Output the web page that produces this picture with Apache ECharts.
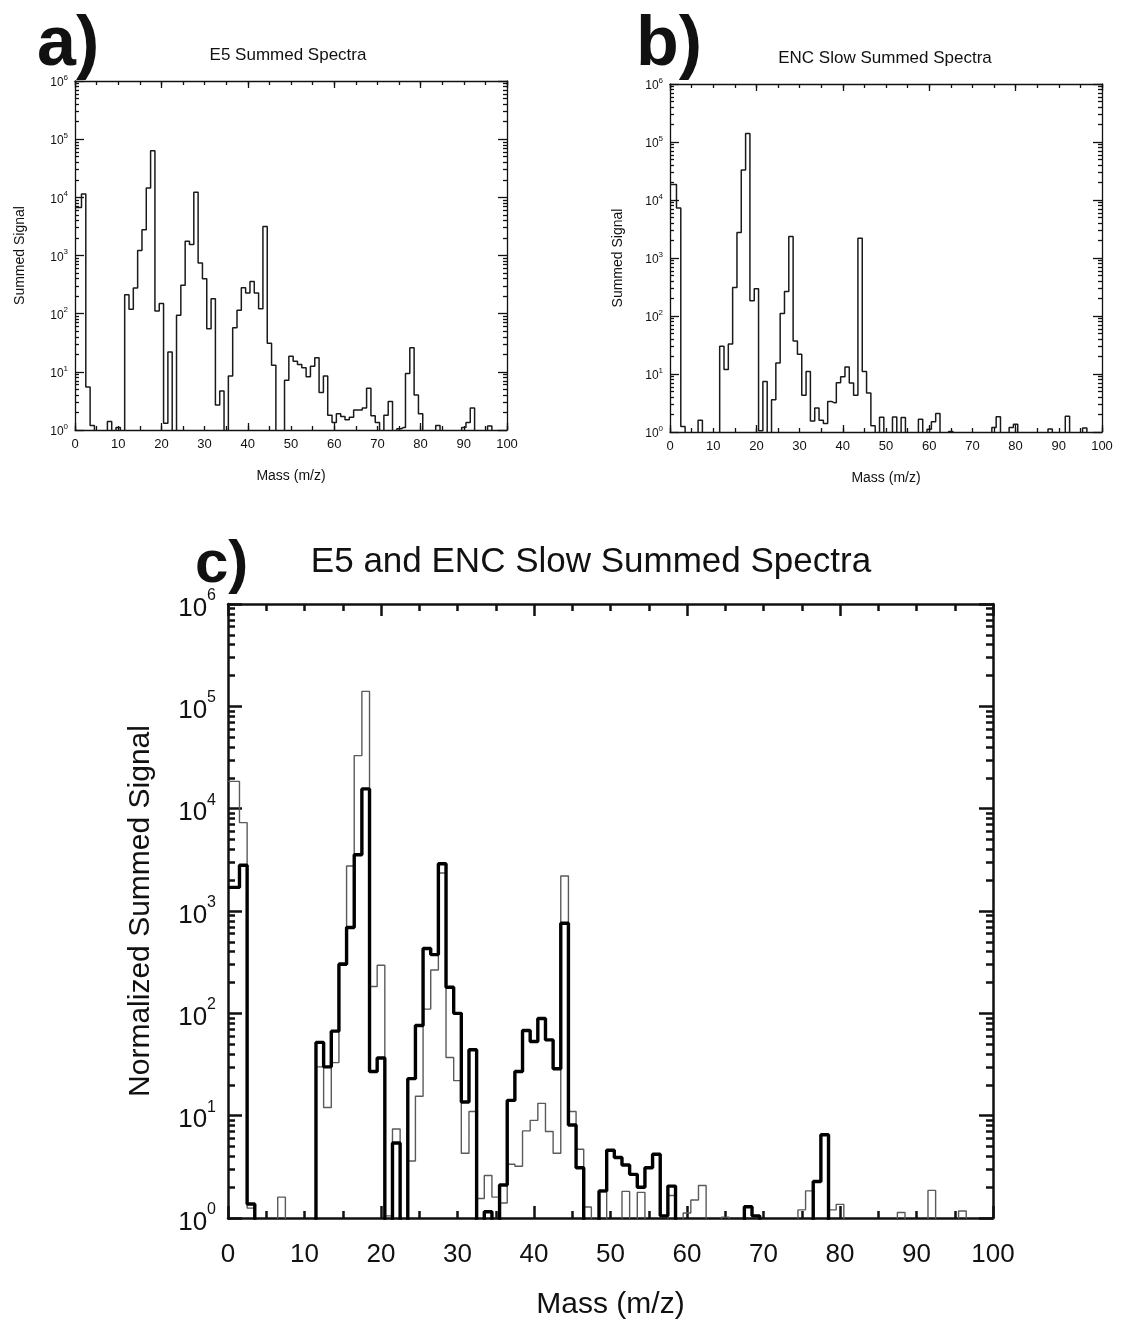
<!DOCTYPE html>
<html>
<head>
<meta charset="utf-8">
<script src="https://cdn.jsdelivr.net/npm/echarts@6/dist/echarts.min.js"></script>
<style>
  html, body { margin: 0; padding: 0; background: #fff; }
  #main { width: 1123px; height: 1321px; }
</style>
</head>
<body>
<div id="main"></div>
<script>
// mass bins, 1 amu wide, centred on integers 0..100
const masses = Array.from({ length: 101 }, (_, i) => i);

// a) E5 summed spectra (counts per mass bin, 0 = empty bin)
const e5 = [
  6700, 6700, 11400, 5.5, 1.2, 0, 0, 0, 1.4, 0,
  1.1, 0, 212, 119, 275, 1220, 2760, 14400, 63000, 111,
  150, 1.3, 22, 0, 94, 307, 1760, 1540, 12200, 740,
  400, 55, 180, 2.7, 4.7, 0, 8.5, 57, 115, 279,
  226, 358, 226, 122, 3150, 31, 13, 0, 0, 7.2,
  18.5, 15.2, 13.4, 11.7, 8.2, 12.5, 17.4, 4.4, 8.5, 1.8,
  1.35, 1.9, 1.7, 1.5, 1.65, 2.2, 2.2, 2.4, 5.2, 1.75,
  1.35, 0, 1.8, 3.1, 0, 1.05, 1.1, 9.4, 26, 4.0,
  1.9, 0, 0, 0, 1.2, 0, 0, 0, 0, 0,
  1.1, 1.35, 2.4, 0, 0, 0, 1.17, 0, 0, 0,
  0
];

// b) ENC slow summed spectra (also the thin grey trace in c)
const encSlow = [
  18500, 18500, 7300, 1.25, 0, 0, 0, 1.6, 0, 0,
  0, 0, 30, 12, 33, 310, 2750, 33000, 140000, 183,
  295, 1.05, 7.4, 0, 3.6, 15.5, 110, 265, 2350, 37,
  22, 4.3, 11, 1.55, 2.6, 1.6, 1.4, 3.35, 3.2, 7.1,
  9.0, 13.2, 7.0, 4.3, 2200, 11, 4.7, 1.28, 0, 1.8,
  0, 0, 1.82, 0, 1.78, 0, 0, 0, 1.66, 0,
  1.12, 1.5, 2.08, 0, 0, 1.02, 0, 0, 0, 0,
  0, 0, 0, 0, 0, 1.2, 1.84, 0, 0, 1.2,
  1.36, 0, 0, 0, 0, 0, 0, 0, 1.13, 0,
  0, 0, 1.86, 0, 0, 0, 1.17, 0, 0, 0,
  0
];

// c) normalized E5 spectrum (thick black trace)
const e5Normalized = [
  1700, 1700, 2800, 1.37, 0, 0, 0, 0, 0, 0,
  0, 0, 52, 30, 67, 302, 690, 3540, 15600, 27,
  36.6, 0, 5.4, 0, 23, 76, 430, 375, 2900, 180,
  100, 13.6, 44, 0, 1.15, 0, 2.1, 14.1, 27, 68,
  53, 89, 55, 28.7, 760, 8.1, 3.1, 0, 0, 1.84,
  4.6, 3.9, 3.3, 2.67, 2.0, 3.1, 4.2, 1.05, 2.05, 0,
  0, 0, 0, 0, 0, 0, 0, 0, 1.29, 1.05,
  0, 0, 0, 0, 0, 0, 0, 2.27, 6.5, 0,
  0, 0, 0, 0, 0, 0, 0, 0, 0, 0,
  0, 0, 0, 0, 0, 0, 0, 0, 0, 0,
  0
];

const yMajorTicks = [1, 10, 100, 1000, 10000, 100000, 1000000];
const yMinorTicks = [2, 3, 4, 5, 6, 7, 8, 9, 20, 30, 40, 50, 60, 70, 80, 90,
  200, 300, 400, 500, 600, 700, 800, 900, 2000, 3000, 4000, 5000, 6000, 7000, 8000, 9000,
  20000, 30000, 40000, 50000, 60000, 70000, 80000, 90000,
  200000, 300000, 400000, 500000, 600000, 700000, 800000, 900000];

const FONT = '"Liberation Sans", Arial, Helvetica, sans-serif';
const FLOOR = 0.01; // empty bins drop below the axis and get clipped

const panels = [
  { grid: { left: 75, top: 81, width: 432, height: 349 },
    axisW: 1.3, tMajX: 7, tMinX: 4, tMajY: 9, tMinY: 4,
    lab: 13, base: 12, sup: 8, xMargin: 8, yMargin: 7,
    name: 14, xGap: 39, yGap: 48, yName: 'Summed Signal' },
  { grid: { left: 670, top: 84, width: 432, height: 348 },
    axisW: 1.3, tMajX: 7, tMinX: 4, tMajY: 9, tMinY: 4,
    lab: 13, base: 12, sup: 8, xMargin: 8, yMargin: 7,
    name: 14, xGap: 39, yGap: 45, yName: 'Summed Signal' },
  { grid: { left: 228, top: 604, width: 765, height: 620 },
    axisW: 2.5, tMajX: 12, tMinX: 7, tMajY: 14, tMinY: 7,
    lab: 26, base: 26, sup: 16, xMargin: 24, yMargin: 12,
    name: 30, xGap: 72, yGap: 72, yName: 'Normalized Summed Signal' }
];

const xAxes = [], yAxes = [];
panels.forEach((p, g) => {
  const line = { show: true, onZero: false, lineStyle: { color: '#111', width: p.axisW } };
  const noLine = { show: false, onZero: false };
  const tickStyle = { color: '#111', width: p.axisW };
  ['bottom', 'top'].forEach(side => {
    // labels every 10, short ticks every 5
    xAxes.push({
      gridIndex: g, type: 'value', position: side, min: 0, max: 100, interval: 10,
      axisLine: line,
      axisTick: { show: true, inside: true, length: p.tMinX, lineStyle: tickStyle },
      minorTick: { show: true, splitNumber: 2, length: p.tMinX, lineStyle: tickStyle },
      splitLine: { show: false }, minorSplitLine: { show: false },
      axisLabel: side === 'bottom'
        ? { show: true, fontSize: p.lab, color: '#111', fontFamily: FONT, margin: p.xMargin }
        : { show: false },
      name: side === 'bottom' ? 'Mass (m/z)' : '', nameLocation: 'middle', nameGap: p.xGap,
      nameTextStyle: { fontSize: p.name, color: '#111', fontFamily: FONT }
    });
    // long ticks every 20
    xAxes.push({
      gridIndex: g, type: 'value', position: side, min: 0, max: 100, interval: 20,
      axisLine: noLine,
      axisTick: { show: true, inside: true, length: p.tMajX, lineStyle: tickStyle },
      splitLine: { show: false }, axisLabel: { show: false }
    });
  });

  ['left', 'right'].forEach(side => {
    yAxes.push({
      gridIndex: g, type: 'log', logBase: 10, position: side, min: 1, max: 1000000,
      axisLine: line,
      axisTick: { show: true, inside: true, length: p.tMajY, lineStyle: tickStyle, customValues: yMajorTicks },
      splitLine: { show: false },
      axisLabel: side === 'left' ? {
        show: true, customValues: yMajorTicks, margin: p.yMargin,
        formatter: v => '{b|10}{s|' + Math.round(Math.log10(v)) + '}',
        rich: {
          b: { fontSize: p.base, fontFamily: FONT, color: '#111', lineHeight: Math.round(p.base * 1.25), padding: [Math.round(p.base * 0.33), 0, 0, 0] },
          s: { fontSize: p.sup, fontFamily: FONT, color: '#111', lineHeight: p.base, verticalAlign: 'top' }
        }
      } : { show: false },
      name: side === 'left' ? p.yName : '',
      nameLocation: 'middle', nameGap: p.yGap, nameRotate: 90,
      nameTextStyle: { fontSize: p.name, color: '#111', fontFamily: FONT }
    });
    yAxes.push({
      gridIndex: g, type: 'log', logBase: 10, position: side, min: 1, max: 1000000,
      axisLine: noLine,
      axisTick: { show: true, inside: true, length: p.tMinY, lineStyle: tickStyle, customValues: yMinorTicks },
      splitLine: { show: false }, axisLabel: { show: false }
    });
  });
});

function histData(vals) {
  return vals.map((v, i) => [masses[i], v > 0 ? v : FLOOR]);
}

function stepSeries(name, vals, g, color, width) {
  return {
    name: name, type: 'line', step: 'middle', xAxisIndex: g * 4, yAxisIndex: g * 4,
    data: histData(vals), showSymbol: false, symbol: 'none', clip: true, silent: true,
    lineStyle: { color: color, width: width }, animation: false
  };
}

const series = [
  stepSeries('E5', e5, 0, '#1a1a1a', 1.5),
  stepSeries('ENC Slow', encSlow, 1, '#1a1a1a', 1.5),
  stepSeries('ENC Slow', encSlow, 2, '#5a5a5a', 1.4),
  stepSeries('E5 normalized', e5Normalized, 2, '#000', 3.4)
];

const txt = (text, x, y, size, weight, align) => ({
  type: 'text', x: x, y: y, silent: true,
  style: { text: text, fontSize: size, fontWeight: weight || 'normal', fontFamily: FONT,
           fill: '#111', align: align || 'center', verticalAlign: 'middle' }
});

const chart = echarts.init(document.getElementById('main'), null, { renderer: 'canvas' });
chart.setOption({
  backgroundColor: '#ffffff',
  animation: false,
  grid: panels.map(p => Object.assign({ containLabel: false }, p.grid)),
  xAxis: xAxes,
  yAxis: yAxes,
  series: series,
  graphic: [
    txt('a)', 37, 46, 70, 'bold', 'left'),
    txt('E5 Summed Spectra', 288, 55, 17),
    txt('b)', 636, 46, 70, 'bold', 'left'),
    txt('ENC Slow Summed Spectra', 885, 58, 17),
    txt('c)', 195, 565, 60, 'bold', 'left'),
    txt('E5 and ENC Slow Summed Spectra', 591, 562, 35)
  ]
});
</script>
</body>
</html>
